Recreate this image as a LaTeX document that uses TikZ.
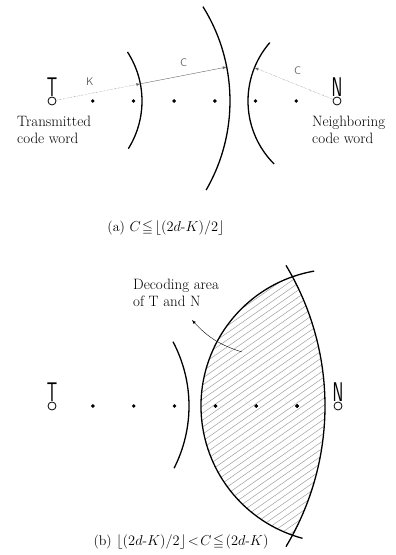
\documentclass[tikz,border=0pt]{standalone}
\usepackage{amssymb}
\usetikzlibrary{positioning}
\usetikzlibrary{calc,arrows.meta}
\tikzset{word/.style={draw,circle,thick,inner sep=0pt,minimum size=8pt}}
\tikzset{point/.style={fill,circle,inner sep=0pt,minimum size=3.8pt}}
\tikzset{letter/.style={inner sep=0pt,font=\fontsize{27}{27}\selectfont\sffamily}}

\begin{document}
\begin{tikzpicture}[
    x=1pt, y=1pt,
    >=latex,
    font=\fontsize{15}{17}\selectfont
  ]

  % Global Style Definitions
  \tikzset{
    rim/.style={line width=1.3pt},
    ray/.style={->, gray!80!black, thin, densely dotted},
    raysolid/.style={->, gray!80!black, thin},
    small/.style={inner sep=0pt, font=\fontsize{11}{11}\selectfont\sffamily},
    note/.style={inner sep=0pt, align=left, anchor=north west},
    caption/.style={inner sep=0pt, font=\fontsize{14}{16}\selectfont},
    hatch/.style={gray!75, line width=0.5pt}
  }
  \useasboundingbox (0,0) rectangle (396,555);

  % (a) Transmitted and neighboring words
  \node (ta) [word] at (52,454) {};
  \node (na) [word] at (337,454) {};
  \node (tla) [letter, above=0pt of ta] {\scalebox{0.6}[1]{T}};
  \node (nla) [letter, above=0pt of na] {\scalebox{0.6}[1]{N}};
  \foreach \i in {1,...,6}
    \node (a\i) [point] at ($(ta)!\i/7!(na)$) {};

  % Spheres round T and N
  \draw[rim] ([shift={(ta)}]-32:90) arc[start angle=-32, end angle=33, radius=90];
  \draw[rim] ([shift={(ta)}]-30:178) arc[start angle=-30, end angle=32, radius=178];
  \draw[rim] ([shift={(na)}]139:89) arc[start angle=139, end angle=225, radius=89];

  % Radii
  \coordinate (ka) at ([shift={(ta)}]11:90);
  \coordinate (ca) at ([shift={(ta)}]11:178);
  \coordinate (cn) at ([shift={(na)}]158:89);
  \draw[ray] (ta) -- (ka) node[small, pos=0.4, above=8pt] {K};
  \draw[raysolid] (ka) -- (ca) node[small, midway, above=9pt] {C};
  \draw[ray] (na) -- (cn) node[small, pos=0.45, above=10pt] {C};

  \node (txa) [note] at (17,439) {Transmitted\\code word};
  \node (nxa) [note] at (312,439) {Neighboring\\code word};

  \node (capa) [caption] at (166,327) {(a) $C\!\leqq\!\lfloor(2d\mbox{-}K)/2\rfloor$};

  % (b) Overlapping decoding areas
  \node (tb) [word] at (52,149) {};
  \node (nb) [word] at (338,149) {};
  \node (tlb) [letter, above=0pt of tb] {\scalebox{0.6}[1]{T}};
  \node (nlb) [letter, above=0pt of nb] {\scalebox{0.6}[1]{N}};
  \foreach \i in {1,...,6}
    \node (b\i) [point] at ($(tb)!\i/7!(nb)$) {};

  \begin{scope}
    \clip (tb) circle[radius=273];
    \clip (nb) circle[radius=137];
    \foreach \s in {-230,-220,...,340}
      \draw[hatch] (\s,0) -- ++(35:520);
  \end{scope}
  \foreach \i in {4,5,6}
    \node [point] at (b\i) {};

  \draw[rim] ([shift={(tb)}]-27:137) arc[start angle=-27, end angle=28, radius=137];
  \draw[rim] ([shift={(nb)}]100:137) arc[start angle=100, end angle=255, radius=137];
  \draw[rim] ([shift={(tb)}]-31:273) arc[start angle=-31, end angle=31, radius=273];

  \node (dec) [note] at (133,276) {Decoding area\\of T and N};
  \coordinate (inside) at (242,203);
  \coordinate (tip) at (192,235);
  \draw[->, thin] (inside) to[bend left=15] (tip);

  \node (capb) [caption] at (181,13) {(b) $\lfloor(2d\mbox{-}K)/2\rfloor\!<\!C\!\leqq\!(2d\mbox{-}K)$};

\end{tikzpicture}
\end{document}
